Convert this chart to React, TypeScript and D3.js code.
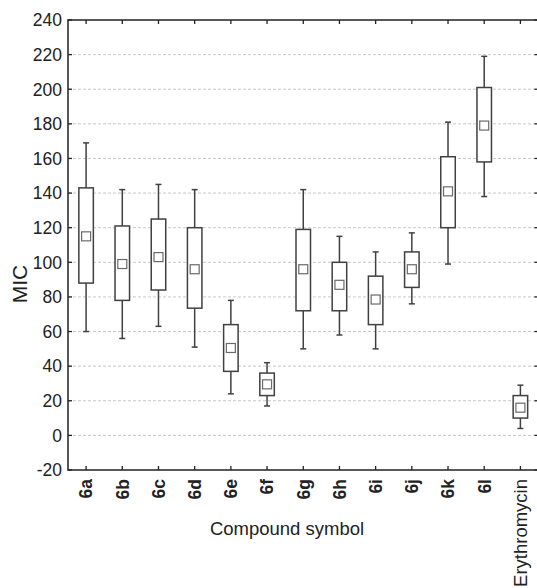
import React from "react";
import * as d3 from "d3";

const categories = ["6a", "6b", "6c", "6d", "6e", "6f", "6g", "6h", "6i", "6j", "6k", "6l", "Erythromycin"];
const whiskerHigh = [169, 142, 145, 142, 78, 42, 142, 115, 106, 117, 181, 219, 29];
const boxHigh = [143, 121, 125, 120, 64, 36, 119, 100, 92, 106, 161, 201, 23];
const means = [115, 99, 103, 96, 50.5, 29.5, 96, 87, 78.5, 96, 141, 179, 16];
const boxLow = [88, 78, 84, 73.5, 37, 23, 72, 72, 64, 85.5, 120, 158, 10];
const whiskerLow = [60, 56, 63, 51, 24, 17, 50, 58, 50, 76, 99, 138, 4];
const yTicks = [-20, 0, 20, 40, 60, 80, 100, 120, 140, 160, 180, 200, 220, 240];

const W = 537;
const H = 588;
const left = 68;
const right = 538.5;
const top = 20;
const bottom = 470;

export default function App() {
  const x = d3.scaleBand<string>().domain(categories).range([left, right]).padding(0);
  const y = d3.scaleLinear().domain([-20, 240]).range([bottom, top]);
  const cx = (c: string) => (x(c) as number) + x.bandwidth() / 2;
  const boxW = 14.5;
  const capW = 6;
  const sq = 9;
  const lineCol = "#404040";
  const font = "Arial, 'Liberation Sans', Helvetica, sans-serif";

  return (
    <svg width={W} height={H} style={{ position: "absolute", left: 0, top: 0, background: "#fff" }}>
      <rect x={0} y={0} width={W} height={H} fill="#fff" />
      {yTicks.filter((t) => t > -20 && t < 240).map((t) => (
        <line key={"g" + t} x1={left} x2={right} y1={y(t)} y2={y(t)} stroke="#c8c8c8" strokeWidth={1} strokeDasharray="3,2" />
      ))}
      {categories.map((c, i) => {
        const xc = cx(c);
        return (
          <g key={c} stroke={lineCol} fill="none">
            <line x1={xc} x2={xc} y1={y(whiskerHigh[i])} y2={y(boxHigh[i])} strokeWidth={1.5} />
            <line x1={xc} x2={xc} y1={y(boxLow[i])} y2={y(whiskerLow[i])} strokeWidth={1.5} />
            <line x1={xc - capW / 2} x2={xc + capW / 2} y1={y(whiskerHigh[i])} y2={y(whiskerHigh[i])} strokeWidth={1.5} />
            <line x1={xc - capW / 2} x2={xc + capW / 2} y1={y(whiskerLow[i])} y2={y(whiskerLow[i])} strokeWidth={1.5} />
            <rect x={xc - boxW / 2} y={y(boxHigh[i])} width={boxW} height={y(boxLow[i]) - y(boxHigh[i])} fill="#fff" strokeWidth={1.5} />
            <rect x={xc - sq / 2} y={y(means[i]) - sq / 2} width={sq} height={sq} fill="#fff" stroke="#6a6a6a" strokeWidth={1.2} />
          </g>
        );
      })}
      <rect x={left} y={top} width={right - left} height={bottom - top} fill="none" stroke="#222" strokeWidth={1.5} />
      {yTicks.map((t) => (
        <g key={"t" + t}>
          <line x1={left} x2={left + 4} y1={y(t)} y2={y(t)} stroke="#222" strokeWidth={1.3} />
          <line x1={right - 4} x2={right} y1={y(t)} y2={y(t)} stroke="#222" strokeWidth={1.3} />
          <text x={left - 6} y={y(t)} dy="0.36em" textAnchor="end" fontFamily={font} fontSize={17.5} fill="#222">
            {t}
          </text>
        </g>
      ))}
      {categories.map((c) => (
        <g key={"x" + c}>
          <line x1={cx(c)} x2={cx(c)} y1={top} y2={top + 4} stroke="#222" strokeWidth={1.3} />
          <line x1={cx(c)} x2={cx(c)} y1={bottom - 4} y2={bottom} stroke="#222" strokeWidth={1.3} />
          <text
            transform={`translate(${cx(c)},${bottom + 9}) rotate(-90)`}
            dy="0.36em"
            textAnchor="end"
            fontFamily={font}
            fontSize={c.length <= 2 ? 17.5 : 18.5}
            fontWeight={c.length <= 2 ? "bold" : "normal"}
            fill="#222"
          >
            {c}
          </text>
        </g>
      ))}
      <text x={287} y={535} textAnchor="middle" fontFamily={font} fontSize={18.5} fill="#222">
        Compound symbol
      </text>
      <text transform={`translate(27,284) rotate(-90)`} textAnchor="middle" fontFamily={font} fontSize={21} fill="#222">
        MIC
      </text>
    </svg>
  );
}
